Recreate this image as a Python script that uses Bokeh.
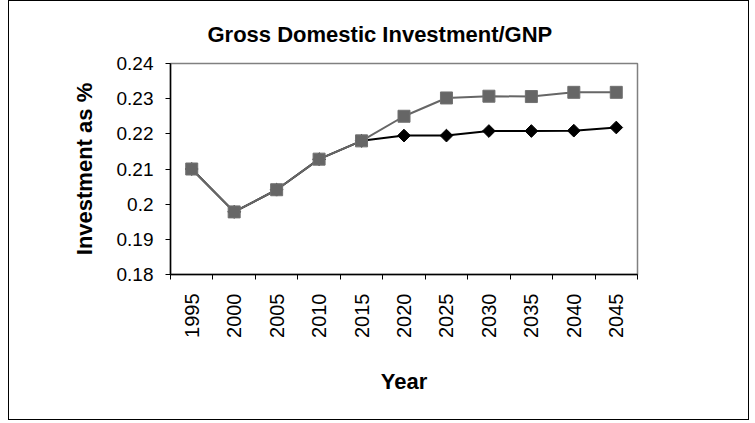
import math
from bokeh.plotting import figure
from bokeh.models import FixedTicker, CustomJSTickFormatter, ColumnDataSource, Range1d
from bokeh.embed import file_html
from bokeh.resources import INLINE

# ---- data ----
years = ["1995", "2000", "2005", "2010", "2015", "2020", "2025", "2030", "2035", "2040", "2045"]
series_diamond = [0.2100, 0.1978, 0.2041, 0.2128, 0.2180, 0.2195, 0.2195, 0.2208, 0.2208, 0.2209, 0.2218]
series_square = [0.2100, 0.1978, 0.2041, 0.2128, 0.2180, 0.2250, 0.2302, 0.2307, 0.2306, 0.2318, 0.2318]
y_ticks = [0.18, 0.19, 0.20, 0.21, 0.22, 0.23, 0.24]

FONT = "Liberation Sans"

xpos = [i + 0.5 for i in range(len(years))]
src = ColumnDataSource(dict(x=xpos, a=series_diamond, b=series_square))

p = figure(width=741, height=420, output_backend="svg", toolbar_location=None,
           x_range=Range1d(0, len(years)), y_range=Range1d(y_ticks[0], y_ticks[-1]),
           min_border_left=161, min_border_right=113, min_border_top=62, min_border_bottom=147,
           title="Gross Domestic Investment/GNP")
p.margin = (0, 0, 0, 8)
p.styles = {"border": "1px solid black", "box-sizing": "border-box"}
p.background_fill_color = "white"
p.border_fill_color = "white"
p.outline_line_color = "#808080"
p.outline_line_width = 1.5
p.xgrid.visible = False
p.ygrid.visible = False

p.title.text_font = FONT
p.title.text_font_size = "22px"
p.title.text_font_style = "bold"
p.title.text_color = "black"
p.title.align = "left"
p.title.offset = 37
p.title.standoff = 33

# lines and markers
p.line("x", "a", source=src, line_color="black", line_width=2)
p.scatter("x", "a", source=src, marker="square", angle=math.pi / 4, size=9,
          fill_color="black", line_color="black")
p.line("x", "b", source=src, line_color="#666666", line_width=2)
p.scatter("x", "b", source=src, marker="square", size=12,
          fill_color="#666666", line_color="#707070")

# x axis
xa = p.xaxis[0]
xa.ticker = FixedTicker(ticks=xpos, minor_ticks=list(range(len(years) + 1)))
xa.major_label_overrides = {xv: y for xv, y in zip(xpos, years)}
xa.major_label_orientation = math.pi / 2
xa.major_tick_line_color = None
xa.major_tick_out = 5
xa.major_tick_in = 0
xa.minor_tick_out = 5
xa.minor_tick_in = 0
xa.minor_tick_line_color = "black"
xa.minor_tick_line_width = 1
xa.axis_line_color = "black"
xa.axis_line_width = 1.5
xa.major_label_text_font = FONT
xa.major_label_text_font_size = "20px"
xa.major_label_text_color = "black"
xa.major_label_standoff = 14
xa.axis_label = "Year"
xa.axis_label_text_font = FONT
xa.axis_label_text_font_size = "22px"
xa.axis_label_text_font_style = "bold"
xa.axis_label_text_color = "black"
xa.axis_label_standoff = 28

# y axis
ya = p.yaxis[0]
ya.ticker = FixedTicker(ticks=y_ticks, minor_ticks=[])
ya.formatter = CustomJSTickFormatter(code="return String(Math.round(tick*1000)/1000);")
ya.major_tick_out = 5
ya.major_tick_in = 0
ya.major_tick_line_color = "black"
ya.minor_tick_line_color = None
ya.axis_line_color = "black"
ya.axis_line_width = 1.5
ya.major_label_text_font = FONT
ya.major_label_text_font_size = "19px"
ya.major_label_text_color = "black"
ya.major_label_standoff = 12
ya.axis_label = "Investment as %"
ya.axis_label_text_font = FONT
ya.axis_label_text_font_size = "22px"
ya.axis_label_text_font_style = "bold"
ya.axis_label_text_color = "black"
ya.axis_label_standoff = 17

open("out.html", "w").write(file_html(p, INLINE))
